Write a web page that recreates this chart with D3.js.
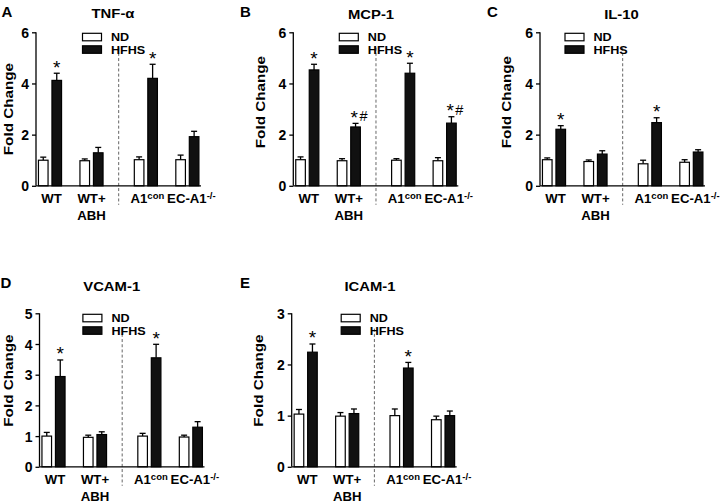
<!DOCTYPE html>
<html><head><meta charset="utf-8">
<script src="https://cdn.jsdelivr.net/npm/d3@7"></script>
<style>
html,body{margin:0;padding:0;background:#fff;}
svg text{font-family:"Liberation Sans",Arial,sans-serif;}
</style></head>
<body><svg id="c" width="720" height="503"></svg>
<script>
// ---- data ----
const groups = ["WT", "WT+ABH", "A1con", "EC-A1-/-"];
const series = ["ND", "HFHS"];

const tnfND = [1.00, 0.98, 1.02, 1.02];
const tnfNDsem = [0.12, 0.07, 0.11, 0.18];
const tnfHFHS = [4.12, 1.29, 4.20, 1.92];
const tnfHFHSsem = [0.28, 0.21, 0.55, 0.21];
const tnfSig = ["*", "", "*", ""];

const mcpND = [1.02, 0.98, 1.00, 0.98];
const mcpNDsem = [0.11, 0.08, 0.06, 0.12];
const mcpHFHS = [4.53, 2.30, 4.40, 2.45];
const mcpHFHSsem = [0.22, 0.14, 0.39, 0.25];
const mcpSig = ["*", "*#", "*", "*#"];

const il10ND = [1.02, 0.95, 0.86, 0.92];
const il10NDsem = [0.07, 0.06, 0.14, 0.10];
const il10HFHS = [2.21, 1.24, 2.47, 1.32];
const il10HFHSsem = [0.14, 0.13, 0.19, 0.09];
const il10Sig = ["*", "", "*", ""];

const vcamND = [1.00, 0.96, 1.00, 0.97];
const vcamNDsem = [0.12, 0.07, 0.09, 0.06];
const vcamHFHS = [2.94, 1.05, 3.55, 1.29];
const vcamHFHSsem = [0.54, 0.09, 0.44, 0.18];
const vcamSig = ["*", "", "*", ""];

const icamND = [1.03, 0.99, 1.00, 0.92];
const icamNDsem = [0.09, 0.07, 0.13, 0.07];
const icamHFHS = [2.24, 1.04, 1.93, 1.00];
const icamHFHSsem = [0.16, 0.09, 0.11, 0.09];
const icamSig = ["*", "", "*", ""];

const ticks6 = [0, 2, 4, 6];
const ticks5 = [0, 1, 2, 3, 4, 5];
const ticks3 = [0, 1, 2, 3];

const panels = [
  {letter:"A", title:"TNF-\u03b1", nd:tnfND, ndS:tnfNDsem, hf:tnfHFHS, hfS:tnfHFHSsem, sig:tnfSig, max:6, ticks:ticks6,
   ax:36, top:32.3, lx:1.5, ly:17.3, tx:113, ty:17.5, legDx:46.5, ylx:-23.5, yly:0},
  {letter:"B", title:"MCP-1", nd:mcpND, ndS:mcpNDsem, hf:mcpHFHS, hfS:mcpHFHSsem, sig:mcpSig, max:6, ticks:ticks6,
   ax:293.3, top:32.3, lx:240, ly:16.7, tx:371, ty:18.5, legDx:46, ylx:-28.8, yly:-7},
  {letter:"C", title:"IL-10", nd:il10ND, ndS:il10NDsem, hf:il10HFHS, hfS:il10HFHSsem, sig:il10Sig, max:6, ticks:ticks6,
   ax:540, top:32.3, lx:487, ly:16.7, tx:621.5, ty:18.5, legDx:25, ylx:-29.2, yly:-7},
  {letter:"D", title:"VCAM-1", nd:vcamND, ndS:vcamNDsem, hf:vcamHFHS, hfS:vcamHFHSsem, sig:vcamSig, max:5, ticks:ticks5,
   ax:39.5, top:313.3, lx:0.5, ly:288.3, tx:111.7, ty:291, legDx:43.4, ylx:-27, yly:-9.5},
  {letter:"E", title:"ICAM-1", nd:icamND, ndS:icamNDsem, hf:icamHFHS, hfS:icamHFHSsem, sig:icamSig, max:3, ticks:ticks3,
   ax:291.7, top:313.3, lx:240, ly:288.3, tx:370, ty:291, legDx:49.5, ylx:-29.2, yly:-9.5}
];

const W = 165, H = 153.5;
const SX = 1.2; // horizontal text stretch
const svg = d3.select("#c");

function stext(g, x, y, str, opt) {
  opt = opt || {};
  const t = g.append("text")
    .attr("transform", `translate(${x},${y})` + (opt.rot ? ` rotate(${opt.rot})` : "") + ` scale(${opt.sx || SX},1)`)
    .attr("text-anchor", opt.anchor || "start")
    .attr("font-size", opt.size || 12)
    .attr("font-weight", opt.weight || "bold")
    .attr("fill", "#000");
  if (opt.sup) {
    t.append("tspan").text(str);
    t.append("tspan").attr("dy", -4.5).attr("font-size", (opt.size || 12) * 0.72).text(opt.sup);
  } else t.text(str);
  return t;
}

// group slot positions: gap after the second group
const gap = 0.31;
const slot = i => i + (i >= 2 ? gap : 0);

panels.forEach(p => {
  const g = svg.append("g").attr("transform", `translate(${p.ax},${p.top})`);
  const y = d3.scaleLinear().domain([0, p.max]).range([H, 0]);
  const x = d3.scaleLinear().domain([-14 / 41.5, (W - 14) / 41.5]).range([0, W]);
  const xs = d3.scaleBand().domain(series).range([-11.55, 11.55]).paddingInner(0.289).paddingOuter(0);
  const bw = xs.bandwidth();

  // divider dashed line
  const dx = x((slot(1) + slot(2)) / 2);
  g.append("line").attr("x1", dx).attr("x2", dx).attr("y1", H * 0.1).attr("y2", H + 19)
    .attr("stroke", "#666").attr("stroke-width", 1).attr("stroke-dasharray", "3,2.2");

  // bars
  groups.forEach((grp, i) => {
    const cx = x(slot(i));
    [["ND", p.nd[i], p.ndS[i]], ["HFHS", p.hf[i], p.hfS[i]]].forEach(([s, v, e]) => {
      const bx = cx + xs(s);
      const mid = bx + bw / 2;
      // error bar (upper)
      g.append("line").attr("x1", mid).attr("x2", mid).attr("y1", y(v)).attr("y2", y(v + e))
        .attr("stroke", "#000").attr("stroke-width", 1.3);
      g.append("line").attr("x1", mid - 3).attr("x2", mid + 3).attr("y1", y(v + e)).attr("y2", y(v + e))
        .attr("stroke", "#000").attr("stroke-width", 1.3);
      g.append("rect").attr("x", bx).attr("y", y(v)).attr("width", bw).attr("height", H - y(v))
        .attr("fill", s === "ND" ? "#fff" : "#111").attr("stroke", "#000").attr("stroke-width", 1.2);
      if (s === "HFHS" && p.sig[i]) {
        const two = p.sig[i].length > 1;
        const t = g.append("text").attr("x", mid + (two ? 3.5 : 0)).attr("y", y(v + e) + 0.5)
          .attr("text-anchor", "middle").attr("font-size", 19).attr("fill", "#000");
        if (two) {
          t.append("tspan").text("*");
          t.append("tspan").attr("dx", 1.5).attr("font-size", 14.5).attr("dy", -2.5).text("#");
        } else t.text("*");
      }
    });
    // x labels
    const lblY = H + 17.5;
    if (grp === "WT+ABH") {
      stext(g, cx, lblY, "WT+", {anchor:"middle", size:12, sx:1.1});
      stext(g, cx, lblY + 16.5, "ABH", {anchor:"middle", size:12, sx:1.1});
    } else if (grp === "A1con") {
      stext(g, cx + 1.5, lblY, "A1", {anchor:"middle", size:12, sx:1.1, sup:"con"});
    } else if (grp === "EC-A1-/-") {
      stext(g, cx + 4, lblY, "EC-A1", {anchor:"middle", size:12, sx:1.1, sup:"-/-"});
    } else {
      stext(g, cx + 1.5, lblY, grp, {anchor:"middle", size:12, sx:1.1});
    }
  });

  // axes
  const yAxis = d3.axisLeft(y).tickValues(p.ticks).tickSize(4).tickPadding(3).tickFormat(d3.format("d"));
  const ya = g.append("g").call(yAxis);
  ya.select(".domain").attr("stroke", "#000").attr("stroke-width", 1.3).attr("d", `M0,0V${H}`);
  ya.selectAll(".tick line").attr("stroke", "#000").attr("stroke-width", 1.3);
  ya.selectAll(".tick text").attr("font-size", 14).attr("font-weight", "bold").attr("fill", "#000")
    .attr("font-family", "Liberation Sans, Arial, sans-serif").attr("dy", "0.36em");
  g.append("line").attr("x1", 0).attr("x2", W).attr("y1", H).attr("y2", H)
    .attr("stroke", "#000").attr("stroke-width", 1.3);

  // y label
  stext(g, p.ylx, H / 2 + p.yly, "Fold Change", {anchor:"middle", size:12.5, rot:-90, sx:1.22});

  // legend
  const lg = g.append("g").attr("transform", `translate(${p.legDx},1)`);
  series.forEach((s, k) => {
    lg.append("rect").attr("x", 0).attr("y", k * 12.5).attr("width", 19).attr("height", 7.5)
      .attr("fill", s === "ND" ? "#fff" : "#111").attr("stroke", "#000").attr("stroke-width", 1.2);
    stext(lg, 28.5, k * 12.5 + 8, s, {size:10.5, sx:1.2});
  });

  // panel letter & title
  stext(svg, p.lx, p.ly, p.letter, {size:15, sx:1});
  stext(svg, p.tx, p.ty, p.title, {anchor:"middle", size:13.5, sx:1.1});
});
</script></body></html>
